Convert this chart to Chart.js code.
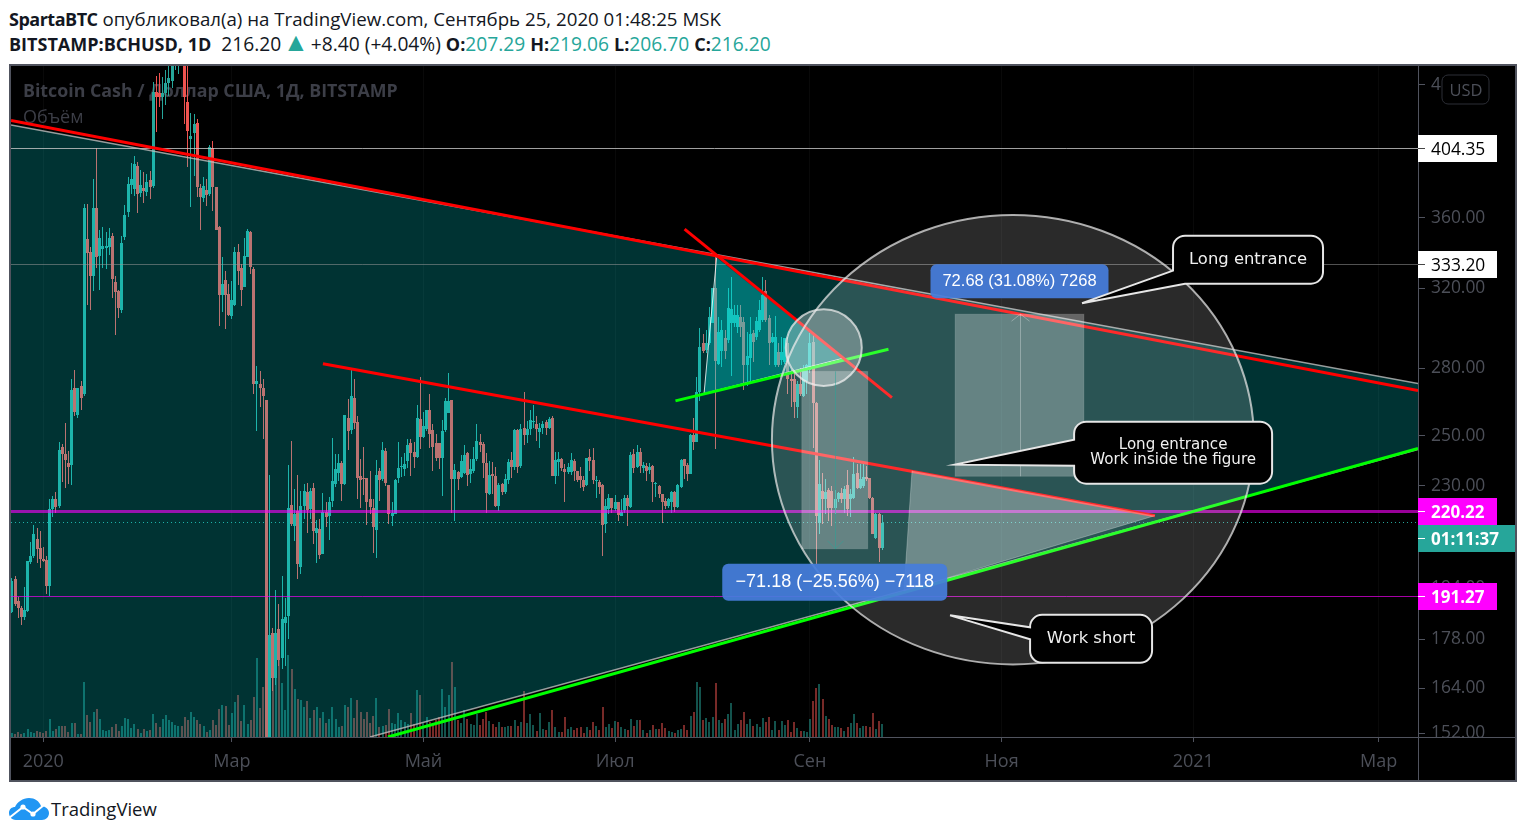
<!DOCTYPE html>
<html>
<head>
<meta charset="utf-8">
<title>BCHUSD</title>
<script src="https://cdn.jsdelivr.net/npm/chart.js@4/dist/chart.umd.min.js"></script>
<style>
  html, body { margin: 0; padding: 0; background: #fff; width: 1525px; height: 836px; overflow: hidden; }
  .head { position: absolute; left: 9px; white-space: nowrap; font-family: "Open Sans", sans-serif; font-size: 18.7px; color: #131722; }
  .head b { font-weight: 700; font-size: 18px; }
  .head i { font-style: normal; color: #26a69a; }
  .head .tri { font-size: 26px; line-height: 0; margin: 0 -3px; }
  #frame { position: absolute; left: 9px; top: 64px; width: 1504px; height: 714px; border: 2px solid #50535e; background: #000; }
  #logo { position: absolute; left: 9px; top: 798px; }
  #logotext { position: absolute; left: 51px; top: 796px; font-family: "Open Sans", sans-serif; font-size: 18.5px; color: #131722; white-space: nowrap; }
</style>
</head>
<body>
<div class="head" style="top:6px"><b style="letter-spacing:-0.5px">SpartaBTC</b> опубликовал(а) на TradingView.com, Сентябрь 25, 2020 01:48:25 MSK</div>
<div class="head" style="top:30px;font-size:19.2px"><b>BITSTAMP:BCHUSD, 1D</b>&nbsp; 216.20 <i class="tri">▲</i> +8.40 (+4.04%) <b>O:</b><i>207.29</i> <b>H:</b><i>219.06</i> <b>L:</b><i>206.70</i> <b>C:</b><i>216.20</i></div>
<div id="frame"><canvas id="chart" width="1504" height="714"></canvas></div>
<svg id="logo" width="40" height="22" viewBox="0 0 40 22">
  <path fill="#2196f3" d="M7 22C2 22 0 18 0 15 0 11 3 9 6 9 8 4 14 0 20 0 26 0 30 3 32 8 36 8 40 11 40 15 40 19 37 22 33 22Z"/>
  <polyline points="0,20 14,9 24,16 35,7" fill="none" stroke="#fff" stroke-width="2"/>
  <circle cx="14" cy="9" r="2.6" fill="#fff"/><circle cx="24" cy="16" r="2.6" fill="#fff"/>
</svg>
<div id="logotext">TradingView</div>

<script>
// daily BCHUSD candles, first bar is 10 days before 1 Jan 2020
const firstDay = -10;
const opens = [186.3,196.9,189.7,187.5,184.7,186.6,202.6,204.6,210.5,207.3,203.6,203.2,194.5,221.3,224.8,222.5,245.6,242.4,239.1,238.3,
271.1,259.1,272,268,347.5,340,326.6,366,337.7,341.8,342.4,343,349.2,323.3,318.5,308.5,348.7,363.6,380.4,377.8,
392.7,375.3,378.5,376,383.6,379.7,444.5,443.8,440.8,443.8,451.2,452.7,467.3,470.4,476.8,472,437.1,410.8,415,422,
378.5,372.2,377.2,374.7,404.6,379.1,354.6,316.3,324.4,316.9,305.4,311.1,340,331,320.6,337.2,351.6,330.5,272.9,272.9,
271.1,265.3,148,179.8,166.7,181,172.5,182.9,185,222.9,215.1,220.6,200.9,222.5,227.7,221.3,229.3,212.6,214,205.3,
220.2,218.8,224.4,230.8,235.1,239.1,230.8,257.8,252.7,266.6,256.1,233.9,233.2,233.2,224.8,221.7,213.7,235.9,232.8,243.6,
230.4,218.8,219.5,233.2,237.5,236.7,239.9,246.9,243.2,241.5,257.4,249.7,253.1,261.3,252.7,246.9,246.9,241.1,252.7,260,
265.3,232.8,235.5,233.6,235.1,242.8,234.7,235.9,240.7,247.3,246.5,239.1,227,234.7,233.9,222.5,230.8,227.7,232.4,240.3,
237.5,252.7,237.9,253.5,250.6,253.1,256.1,255.2,251.5,253.5,256.1,253.5,257.8,233.9,239.5,240.7,236.7,235.5,235.5,239.9,
235.9,233.9,232.4,230.4,241.5,240.3,232,231.6,230.4,215.8,221.3,225.5,221.3,223.7,218.8,221,225.5,222.1,242.4,237.5,
243.2,237.1,237.9,236.3,237.9,230.8,230,227,224.4,222.5,223.7,227.7,222.1,229.7,240.7,238.3,234.7,250.6,247.7,268.9,
291.9,288.5,291.9,301.9,320,281.8,288,294.4,293.4,301.9,301.9,299.9,304.9,302.4,281.3,284.7,296.9,294.9,298.3,303.4,
318.5,304.4,292.4,281.3,287.5,283.7,282.8,291.9,275.2,275.2,262.6,272.9,267.5,274.3,279,292.4,264,216.2,228.1,224.8,
228.5,228.1,221.7,225.1,227.3,224.8,230.4,225.1,225.5,235.1,229.3,230,233.6,233.2,225.5,210.9,219.5,207.29];
const highs = [197.2,197.8,191,188.1,194.2,202.9,209.4,215.5,214.4,213.3,207.7,204.6,225.1,226.3,227.7,247.3,246.5,255.6,243.6,275.2,
279,271.1,274.3,368.5,368.5,342.9,384.2,404.6,352.8,354.6,351.6,354,351,326.6,319,349.2,367.9,385.5,394.7,399.3,
395.3,390.1,388.8,387.5,389.4,452,456.5,458.8,455.7,461.1,464.2,475.2,480.8,483.2,484.8,476.8,467.3,429.1,428.4,424.8,
381,385.5,384.2,406.6,409.4,379.1,355.2,337.2,329.4,322.2,323.8,342.9,344.6,333.2,348.1,353.4,352.2,331.5,280.9,278.5,
274.8,265.3,234.3,181.3,193.2,188.8,197.8,190.6,238.3,248.1,228.9,234.3,228.1,230.8,231.2,229.3,231.2,217.3,217.7,227.3,
223.7,225.9,249.3,242.4,242.4,239.9,259.1,265.8,279,275.2,258.7,240.7,245.6,233.2,235.9,225.1,240.3,237.1,247.7,245.2,
230.4,223.7,232.8,247.3,241.5,242.8,248.9,248.9,247.3,263.5,276.1,260.4,261.3,268,255.2,251,246.9,256.9,266.2,277.6,
265.3,238.7,235.9,242,246.1,243.2,240.7,245.6,255.2,251,247.3,242.8,239.9,239.5,237.5,231.2,231.2,234.7,240.7,243.2,
253.1,253.1,255.2,269.3,256.5,261.3,263.5,258.7,255.6,256.5,256.9,258.2,258.7,243.2,243.2,241.1,238.7,239.1,242.8,240.7,
235.9,237.5,233.9,241.1,244.8,245.2,233.9,232.4,230.8,225.1,227,225.5,226.6,223.7,225.1,226.6,226.6,243.2,244.8,246.1,
245.2,239.5,239.1,239.1,238.3,231.6,230.4,227,225.5,225.5,228.1,228.1,230.8,240.7,240.7,239.1,251,257.8,275.7,299.3,
296.4,298.3,310,320,338.3,304.9,303.4,298.3,320,326,311.1,311.1,311.1,305,297.3,305,298.3,305,313.7,326,
324.4,306,296.9,305.4,291.9,294.9,294.4,294.9,279,279,274.3,280,281.3,282.2,296.9,296.9,264.4,240.3,235.1,232.8,
229.3,230,228.5,227.7,229.3,230,236.3,228.9,241.5,238.7,238.7,238.7,237.9,233.2,225.9,219.9,219.9,219.06];
const lows = [185.9,188.1,184.4,182.3,183.8,186.3,201.9,203.9,202.2,200.5,202.6,191.9,191.3,218.4,219.9,221.7,231.6,229.3,230.8,230.4,
258.7,257.8,261.3,267.5,311.1,308.5,318.5,331,319,331,330.5,338.3,314.8,295.9,304.4,307,346.9,360.5,374.7,373.4,
363,372.8,369.1,373.4,371.6,378.5,415.7,433.5,424.8,435,441.6,447.5,461.1,458,467.3,421.3,392,366.6,386.2,372.8,
352.8,369.8,367.3,373.4,364.2,352.8,300.3,307.5,298.8,305.4,303.9,310.6,321.7,310.6,320.6,337.2,327.7,268.4,252.3,262.6,
248.9,146,135,163.2,164.8,170.1,169.3,170.1,178,215.1,209.8,196.9,198.5,217.7,212.6,217.7,208.8,202.2,203.6,205.3,
214.7,210.2,222.1,229.7,232,224.4,230.4,244.4,251,253.1,225.1,221.7,226.6,215.5,219.5,205.6,203.9,224.4,232,230,
215.8,215.1,219.5,231.2,233.6,233.9,237.1,233.9,237.1,241.1,244.8,249.3,252.3,245.2,235.9,239.9,236.7,226.3,251.5,259.6,
219.9,216.9,228.5,233.2,234.7,230,231.2,235.1,239.9,243.2,233.2,219.9,226.6,227,222.1,220.6,226.6,227,230.8,233.2,
236.3,235.1,237.1,246.1,246.9,250.2,253.5,248.1,245.2,251,250.2,253.1,233.9,230.8,233.9,235.9,224,234.7,234.3,232,
231.6,229.3,228.1,230,235.9,230.8,225.5,227,204.6,212.6,219.5,219.9,220.6,216.9,218.8,219.9,215.1,221.7,235.1,237.1,
235.1,235.1,232,234.7,223.7,225.9,225.5,216.2,221.3,221.7,219.9,220.2,221.7,229.3,232.8,232,234.7,244,247.3,264.9,
287.1,287.1,290.9,301.9,244.8,281.3,280.4,284.2,291.9,276.6,299.9,296.9,294.9,270.2,272,274.3,282.8,293.4,297.3,302.4,
302.4,281.3,291.9,280.4,280.4,281.3,281.8,268.4,262.2,257.8,257.8,267.5,267,268.4,278,245.2,201.9,212.3,215.8,219.5,
216.9,215.1,219.5,224,223.3,219.9,218.8,218.4,225.1,228.9,228.9,229.3,232,225.1,212.3,210.5,202.6,206.7];
const closes = [196.2,188.8,187.5,184.7,186.9,202.9,204.6,212.3,207,203.6,202.9,194.5,221.3,224.8,222.1,244,242.4,240.3,237.5,270.2,
260.4,270.7,266.6,366,339.5,326.6,366,337.2,348.1,343.5,343.5,348.1,325,318,309.5,345.2,361.7,381,384.2,394,
374.7,380.4,376.6,382.3,379.1,444.5,440.8,440.8,443.8,451.2,455,468.9,472.8,476.8,472,440.8,416.4,412.8,421.3,379.1,
372.8,379.7,374.1,405.3,379.1,352.8,316.3,322.2,316.3,306,313.7,340,329.4,319,337.7,352.2,331.5,272.9,274.3,270.7,
267.5,147.5,179.2,166.7,179.8,171.9,184.1,184.7,221.7,215.8,219.5,201.9,222.5,228.1,221,228.1,213.3,214.4,205,220.2,
218.4,224,232,236.7,239.1,230.8,259.1,252.3,267.5,255.6,233.2,232.4,232.8,223.7,222.1,214.7,234.3,232.4,244.4,231.2,
219.5,219.9,232.4,237.1,237.9,238.7,246.1,242.8,241.5,257.8,249.7,254.4,260.9,251,245.6,241.1,241.1,252.3,264.9,264.9,
232.8,236.3,232.8,239.9,242,234.3,236.7,240.7,248.1,246.1,239.1,227.3,234.3,233.9,222.5,230.4,227.7,232.8,239.5,237.5,
252.7,237.5,253.1,250.6,253.1,256.9,256.5,253.1,253.5,255.2,253.5,257.4,233.9,240.3,240.7,237.1,235.5,237.5,240.3,235.9,
232.4,232.4,229.7,241.1,239.9,232.4,232.4,229.7,215.5,222.5,225.5,221.7,224,219.2,220.2,225.5,222.5,242,237.1,243.2,
237.9,238.3,235.9,237.5,231.6,231.2,227,223.7,222.5,224.8,227.7,222.1,230.4,240.3,237.9,234.7,250.6,247.7,268.9,290,
288,291.9,305,320,283.2,297.3,298.3,288,309.5,309,306,306,299.9,281.3,285.6,296.4,292.4,302.9,308.5,316.3,
303.4,291.9,294.9,294.9,281.3,287.5,294.4,275.2,274.3,264.4,272.5,268.4,279,281.3,291.9,264,218.8,230.8,224.8,227.7,
221.7,221.7,224.8,227.3,224.8,228.9,221.3,227,234.7,229.3,232.8,233.6,232.8,225.5,212.3,219.5,207.3,216.2];
const volumes = [4,3,5,3,4,8,5,4,6,5,4,6,18,6,8,11,11,11,5,14,
14,3,3,55,22,15,25,28,18,7,6,7,10,13,6,11,19,18,9,13,
8,4,8,6,7,23,14,10,18,22,17,15,12,11,11,20,17,25,20,17,
13,11,5,7,17,12,28,32,31,12,24,35,42,16,32,13,17,40,79,29,
50,120,100,70,65,108,54,27,82,68,48,38,37,30,36,19,27,30,19,25,
14,18,30,18,10,11,32,30,39,19,37,25,18,25,14,21,39,10,11,12,
28,14,13,24,17,15,13,24,13,47,42,14,20,15,14,17,20,48,30,42,
75,50,17,14,27,18,13,12,23,12,18,25,16,13,10,15,10,10,11,11,
17,11,15,46,14,23,12,6,24,8,7,15,27,10,5,5,20,8,10,7,
9,10,4,10,7,15,11,7,30,10,13,9,16,15,10,8,7,18,11,17,
17,7,4,7,12,8,8,14,9,6,5,4,7,8,12,7,21,25,55,50,
17,19,15,20,54,17,14,18,23,34,7,13,17,25,13,18,11,13,10,19,
15,20,7,16,7,16,12,17,5,15,9,6,6,5,18,36,49,53,38,21,
18,12,10,10,9,6,10,14,23,14,9,11,11,10,24,8,16,13];

// axis ticks
const monthTicks = [0, 60, 121, 182, 244, 305, 366, 425];
const monthLabels = ['2020', 'Мар', 'Май', 'Июл', 'Сен', 'Ноя', '2021', 'Мар'];
const priceTicks = [152, 164, 178, 194, 210, 230, 250, 280, 320, 360, 400, 450];
const dayMin = -10.28, dayMax = 437.53, priceMin = 151.1, priceMax = 464.2;

// drawings on the chart, [day, price]
const wedgeShape = [[-10.28, 420.6], [437.53, 272.9], [437.53, 244.4], [104, 151.1], [-10.28, 151.1]];
const flagShape = [[214.3, 337], [210.3, 268.4], [254.5, 284.7]];
const fallShape = [[276.5, 235.9], [273.9, 192.9], [353.8, 218.8]];
const wedgeTop = [[-10.28, 420.6], [437.53, 272.9]];
const wedgeBottom = [[104, 151.1], [437.53, 244.4]];
const redLong = [[-10.28, 423.8], [437.53, 269.8]];
const redMid = [[89, 282.1], [353.8, 218.8]];
const redSteep = [[204.1, 353.4], [270.1, 266.6]];
const greenLong = [[109.7, 151.1], [437.53, 244.8]];
const greenShort = [[201.2, 265.1], [269, 289]];
// [dayLeft, dayRight, priceTop, priceBottom]
const bigCircle = [231.9, 385.3, 361.8, 170.6];
const smallCircle = [236.3, 260.5, 309, 271.8];
const longBox = [290.2, 331.2, 306.5, 233.7];
const shortBox = [241.4, 262.4, 278.5, 207];

const isUp = opens.map((o, i) => closes[i] >= o);
const toPoints = list => list.map(p => ({ x: p[0], y: p[1] }));
const days = opens.map((o, i) => firstDay + i);
const UP = '#26a69a', DOWN = '#ef5350';

function lineSet(points, color, width, order, dash) {
  return { type: 'line', data: toPoints(points), borderColor: color, borderWidth: width, borderDash: dash || [],
    pointRadius: 0, fill: false, tension: 0, order: order };
}
function shapeSet(points, color, order, edge) {
  return { type: 'line', data: toPoints(points), backgroundColor: color, borderColor: edge || 'rgba(0,0,0,0)',
    borderWidth: edge ? 1 : 0, pointRadius: 0, fill: 'shape', tension: 0, order: order };
}
// horizontal price level, kept on a pixel row
function levelSet(price, color, width, order, dash) {
  const ds = lineSet([[dayMin, price], [dayMax, price]], color, width, order, dash);
  ds.snapY = true;
  return ds;
}

const drawings = {
  id: 'drawings',
  // bars land on whole pixels so the 1px wicks stay sharp
  afterDatasetsUpdate(chart) {
    chart.data.datasets.forEach((ds, i) => {
      const els = chart.getDatasetMeta(i).data;
      if (ds.snapY) els.forEach(el => { el.y = Math.floor(el.y) + 0.5; });
      if (ds.type !== 'bar') return;
      els.forEach(el => {
        el.x = ds.barThickness === 2 ? Math.round(el.x) : Math.floor(el.x) + 0.5;
        el.y = Math.round(el.y);
        el.base = Math.round(el.base);
      });
    });
  },
  beforeDatasetsDraw(chart) {
    const ctx = chart.ctx;
    ctx.save();
    ctx.textBaseline = 'middle';
    ctx.fillStyle = '#3c3e47';
    ctx.font = 'bold 17.8px "Open Sans"';
    ctx.fillText('Bitcoin Cash / Доллар США, 1Д, BITSTAMP', 12, 25.5);
    ctx.font = '18px "Open Sans"';
    ctx.fillText('Объём', 12, 51.5);
    ctx.restore();
  },
  afterDatasetsDraw(chart) {
    const ctx = chart.ctx, X = chart.scales.x, Y = chart.scales.y;
    const area = chart.chartArea;
    const px = d => X.getPixelForValue(d), py = p => Y.getPixelForValue(p);
    ctx.save();
    ctx.beginPath();
    ctx.rect(area.left, area.top, area.width, area.height);
    ctx.clip();

    function ellipse(b, fill, stroke) {
      const l = px(b[0]), r = px(b[1]), t = py(b[2]), bt = py(b[3]);
      ctx.beginPath();
      ctx.ellipse((l + r) / 2, (t + bt) / 2, (r - l) / 2, (bt - t) / 2, 0, 0, Math.PI * 2);
      ctx.fillStyle = fill; ctx.fill();
      ctx.strokeStyle = stroke; ctx.lineWidth = 2; ctx.stroke();
    }
    ellipse(bigCircle, 'rgba(255,255,255,0.165)', 'rgba(225,225,225,0.75)');
    ellipse(smallCircle, 'rgba(255,255,255,0.3)', 'rgba(235,235,235,0.75)');

    function posBox(b, arrowUp) {
      const l = px(b[0]), r = px(b[1]), t = py(b[2]), bt = py(b[3]), c = Math.round((l + r) / 2) + 0.5;
      ctx.fillStyle = 'rgba(255,255,255,0.28)';
      ctx.fillRect(l, t, r - l, bt - t);
      ctx.strokeStyle = 'rgba(255,255,255,0.12)'; ctx.lineWidth = 1;
      ctx.strokeRect(l, t, r - l, bt - t);
      ctx.strokeStyle = arrowUp ? 'rgba(255,255,255,0.3)' : 'rgba(38,166,154,0.5)';
      ctx.beginPath();
      ctx.moveTo(c, t); ctx.lineTo(c, bt);
      if (arrowUp) { ctx.moveTo(c - 9, t + 7); ctx.lineTo(c, t); ctx.lineTo(c + 9, t + 7); }
      else { ctx.moveTo(c - 8, bt - 8); ctx.lineTo(c, bt); ctx.lineTo(c + 8, bt - 8); }
      ctx.stroke();
    }
    posBox(longBox, true);
    posBox(shortBox, false);

    function blueTag(text, b, above, w, h, size) {
      const c = (px(b[0]) + px(b[1])) / 2;
      const t = above ? py(b[2]) - 16 - h : py(b[3]) + 15;
      ctx.beginPath();
      ctx.roundRect(c - w / 2, t, w, h, 6);
      ctx.fillStyle = 'rgba(70,125,220,0.93)'; ctx.fill();
      ctx.fillStyle = '#fff'; ctx.font = size + 'px "Liberation Sans"';
      ctx.textAlign = 'center'; ctx.textBaseline = 'middle';
      ctx.fillText(text, c, t + h / 2);
    }
    blueTag('72.68 (31.08%) 7268', longBox, true, 178, 34, 16.5);
    blueTag('−71.18 (−25.56%) −7118', shortBox, false, 225, 37, 18);

    // tip in chart values, box offsets in px from the tip
    function callout(tip, box, a1, a2, lines, size) {
      const tx = px(tip[0]), ty = py(tip[1]);
      const l = tx + box[0], r = tx + box[1], t = ty + box[2], b = ty + box[3], rad = 12;
      ctx.beginPath();
      ctx.moveTo(l + rad, t);
      ctx.arcTo(r, t, r, t + rad, rad);
      ctx.arcTo(r, b, r - rad, b, rad);
      if (ty + a2[1] >= b) { ctx.lineTo(tx + a2[0], b); }
      else { ctx.arcTo(l, b, l, b - rad, rad); ctx.lineTo(l, ty + a2[1]); }
      ctx.lineTo(tx, ty);
      ctx.lineTo(l, ty + a1[1]);
      ctx.arcTo(l, t, l + rad, t, rad);
      ctx.closePath();
      ctx.fillStyle = '#000'; ctx.fill();
      ctx.strokeStyle = '#e6e6e6'; ctx.lineWidth = 2; ctx.stroke();
      ctx.fillStyle = '#f0f0f0'; ctx.font = size + 'px "DejaVu Sans"';
      ctx.textAlign = 'center'; ctx.textBaseline = 'middle';
      const cy = (t + b) / 2 - (lines.length - 1) * 7.5;
      lines.forEach((s, i) => ctx.fillText(s, (l + r) / 2, cy + i * 15));
    }
    callout([330.6, 312.2], [91, 241, -67.5, -19.5], [91, -32.5], [103, -19.5], ['Long entrance'], 16.4);
    callout([290.2, 238.3], [119, 317, -43, 19], [119, -25], [119, 1], ['Long entrance', 'Work inside the figure'], 15.1);
    callout([288.6, 185.2], [80, 202, -0.5, 47.5], [80, 12], [80, 24], ['Work short'], 16.4);
    ctx.restore();
  },
  afterDraw(chart) {
    const ctx = chart.ctx, Y = chart.scales.y, area = chart.chartArea;
    const w = chart.width, h = chart.height, right = area.right;
    ctx.save();
    // axis frame runs to the canvas edges, lowest tick label is cut by it
    ctx.fillStyle = '#000';
    ctx.fillRect(right + 1, area.bottom, w - right, 12);
    ctx.strokeStyle = '#50535e'; ctx.lineWidth = 1;
    ctx.beginPath();
    ctx.moveTo(right + 0.5, 0); ctx.lineTo(right + 0.5, h);
    ctx.moveTo(0, area.bottom + 0.5); ctx.lineTo(w, area.bottom + 0.5);
    ctx.stroke();

    function tag(text, y, bg, fg, bold, width) {
      const top = Math.floor(y) - 13;
      ctx.fillStyle = bg;
      ctx.fillRect(right, top, width, 27);
      ctx.fillStyle = fg === '#000' ? '#444' : '#fff';
      ctx.fillRect(right, top + 13, 7, 1);
      ctx.fillStyle = fg;
      ctx.font = bold ? 'bold 17px "Open Sans"' : '17.4px "Open Sans"';
      ctx.textAlign = 'left'; ctx.textBaseline = 'middle';
      ctx.fillText(text, right + 13, top + 15);
    }
    tag('404.35', Y.getPixelForValue(404.35), '#fff', '#000', false, 79);
    tag('333.20', Y.getPixelForValue(333.2), '#fff', '#000', false, 79);
    tag('220.22', Y.getPixelForValue(220.22), '#ff00ff', '#fff', true, 79);
    tag('01:11:37', Y.getPixelForValue(216.2) + 16, '#26a69a', '#fff', true, 97);
    tag('191.27', Y.getPixelForValue(191.27), '#ff00ff', '#fff', true, 79);

    // currency button over the top tick
    ctx.beginPath();
    ctx.roundRect(right + 24, 9, 47, 29, 6);
    ctx.fillStyle = '#000'; ctx.fill();
    ctx.strokeStyle = '#2c2e36'; ctx.lineWidth = 1; ctx.stroke();
    ctx.fillStyle = '#4c4f58'; ctx.font = '16.5px "Open Sans"';
    ctx.textAlign = 'center'; ctx.textBaseline = 'middle';
    ctx.fillText('USD', right + 48, 25);
    ctx.restore();
  }
};

new Chart(document.getElementById('chart'), {
  type: 'bar',
  data: {
    datasets: [
      // lower order is painted later, so the overlays sit on top of the candles
      levelSet(216.2, UP, 1, 100, [1, 3]),
      { type: 'bar', yAxisID: 'yVol', data: days.map((d, i) => ({ x: d, y: volumes[i] })), barThickness: 2, inflateAmount: 0, grouped: false,
        backgroundColor: isUp.map(u => u ? 'rgba(38,166,154,0.5)' : 'rgba(239,83,80,0.5)'), order: 90 },
      { type: 'bar', data: days.map((d, i) => ({ x: d, y: [lows[i], highs[i]] })), barThickness: 1, inflateAmount: 0, grouped: false,
        backgroundColor: isUp.map(u => u ? UP : DOWN), order: 80 },
      { type: 'bar', data: days.map((d, i) => ({ x: d, y: [opens[i], closes[i]] })), barThickness: 3, inflateAmount: 0, grouped: false, minBarLength: 1,
        backgroundColor: isUp.map(u => u ? UP : DOWN), order: 70 },
      shapeSet(wedgeShape, 'rgba(0,232,232,0.22)', 60),
      levelSet(404.35, 'rgba(200,200,200,0.8)', 1, 55),
      levelSet(333.2, 'rgba(150,150,150,0.55)', 1, 55),
      levelSet(220.22, 'rgba(255,0,255,0.6)', 3, 50),
      levelSet(191.27, 'rgba(255,0,255,0.65)', 1, 50),
      shapeSet(flagShape, 'rgba(0,230,230,0.35)', 40, 'rgba(255,255,255,0.8)'),
      lineSet(wedgeTop, 'rgba(190,190,190,0.8)', 1.5, 35),
      lineSet(wedgeBottom, 'rgba(190,190,190,0.8)', 1.5, 35),
      lineSet(redLong, '#ff0000', 3, 30),
      lineSet(redMid, '#ff0000', 3, 30),
      lineSet(redSteep, '#ff0000', 3, 30),
      lineSet(greenLong, '#00ff00', 3, 30),
      lineSet(greenShort, '#00ff00', 3, 30),
      shapeSet(fallShape, 'rgba(255,255,255,0.32)', 20, 'rgba(255,255,255,0.25)')
    ]
  },
  options: {
    responsive: false,
    animation: false,
    events: [],
    layout: { padding: 0 },
    plugins: { legend: { display: false }, tooltip: { enabled: false } },
    scales: {
      x: {
        type: 'linear', min: dayMin, max: dayMax, offset: false,
        grid: { offset: false, color: 'rgba(255,255,255,0.035)', tickColor: '#50535e', tickLength: 5 },
        border: { color: '#50535e' },
        ticks: { color: '#4c4f58', font: { family: 'Open Sans', size: 18 }, padding: 9, autoSkip: false, maxRotation: 0,
          callback: v => monthLabels[monthTicks.indexOf(v)] },
        afterBuildTicks: s => { s.ticks = monthTicks.map(v => ({ value: v })); },
        afterFit: s => { s.height = 43; s.paddingLeft = 0; s.paddingRight = 0; }
      },
      y: {
        type: 'logarithmic', position: 'right', min: priceMin, max: priceMax,
        grid: { color: 'rgba(0,0,0,0)', tickColor: '#50535e', tickLength: 7 },
        border: { color: '#50535e' },
        ticks: { color: '#4c4f58', font: { family: 'Open Sans', size: 17.4 }, padding: 6, autoSkip: false,
          callback: v => v.toFixed(2) },
        afterBuildTicks: s => { s.ticks = priceTicks.map(v => ({ value: v })); },
        afterFit: s => { s.width = 97; s.paddingTop = 0; s.paddingBottom = 0; }
      },
      yVol: { type: 'linear', display: false, min: 0, max: 671 }
    }
  },
  plugins: [drawings]
});
</script>
</body>
</html>
